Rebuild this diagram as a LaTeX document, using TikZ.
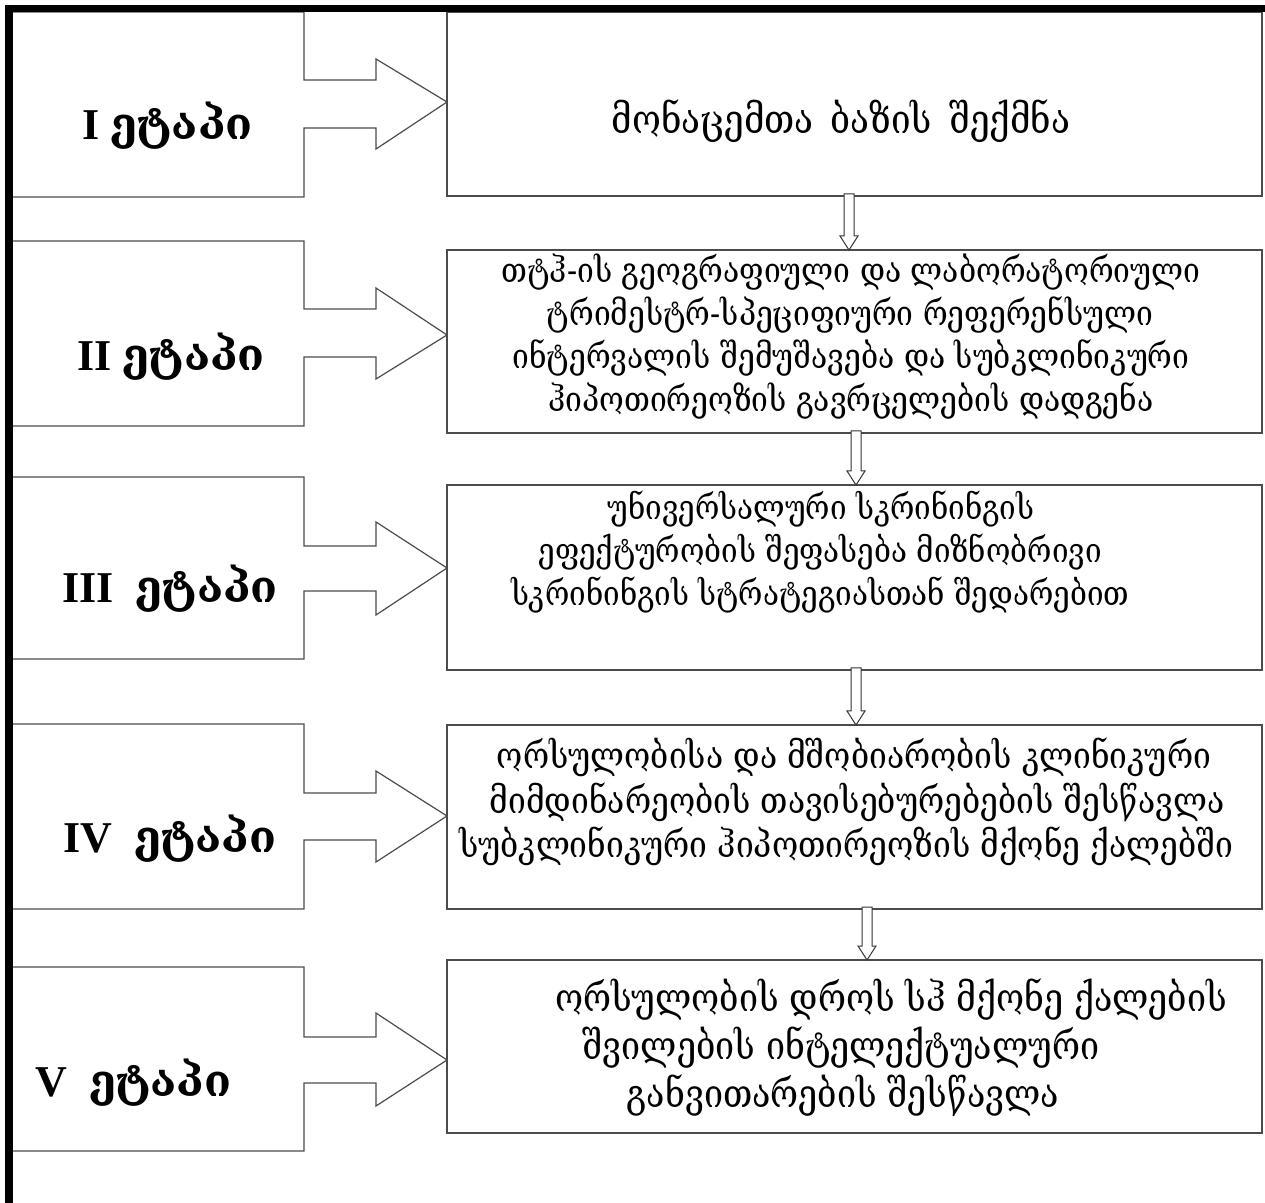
\documentclass[tikz,border=0pt]{standalone}
\usepackage{fontspec}
\setmainfont{Liberation Serif}
\newfontfamily\geo{DejaVu Serif}
\usetikzlibrary{calc,fit}
\newcommand\stagebox[8]{%
  \draw[callout] (13,#1) -- (304,#1) -- (304,#3) -- (376,#3) -- (376,#5)
     -- (447,#7) -- (376,#6) -- (376,#4) -- (304,#4) -- (304,#2) -- (13,#2);
  \coordinate (#8) at (447,#7);}
\newcommand\blockdown[3]{%
  \draw[darr] let \p1=(#2.south -| #1), \p2=(#3.north -| #1) in
    (\x1-2.5pt,\y1+1pt) -- (\x1-2.5pt,\y2+7pt) -- (\x1-4.5pt,\y2+7pt) -- (\x1,\y2)
    -- (\x1+4.5pt,\y2+7pt) -- (\x1+2.5pt,\y2+7pt) -- (\x1+2.5pt,\y1+1pt) -- cycle;}
\newcommand\tall[1]{\scalebox{1}[1.15]{#1}}
\begin{document}
\begin{tikzpicture}[x=0.5pt,y=-0.5pt,
  frameline/.style={line width=3.9pt, black, line join=miter},
  callout/.style={draw=black!70, line width=0.6pt},
  rbox/.style={draw=black!70, line width=0.6pt, inner sep=0pt, outer sep=0pt},
  darr/.style={draw=black!80, line width=0.5pt, fill=white},
  btxt/.style={anchor=base, inner sep=0pt, font=\geo\fontsize{15}{18}\selectfont},
  fs/.style={font=\geo\fontsize{#1}{18}\selectfont},
  ltxt/.style={anchor=base west, inner sep=0pt, font=\fontsize{22}{26}\selectfont\bfseries},
]
\useasboundingbox (0,0) rectangle (1265,1203);
\fill[white] (0,0) rectangle (1265,1203);

% left stage callouts
\stagebox{12}{197}{80}{128}{59}{149}{102}{tip1}
\stagebox{241}{426}{309}{357}{288}{379}{335}{tip2}
\stagebox{477}{659}{546}{591}{522}{615}{568}{tip3}
\stagebox{724}{909}{793}{840}{771}{862}{816}{tip4}
\stagebox{967}{1151}{1037}{1083}{1013}{1106}{1060}{tip5}

\node[ltxt] (l1) at (82,140) {I {\geo ეტაპი}};
\node[ltxt] (l2) at (77,371) {II {\geo ეტაპი}};
\node[ltxt] (l3) at (62,603) {III\ \ {\geo ეტაპი}};
\node[ltxt] (l4) at (63,852) {IV\ \ {\geo ეტაპი}};
\node[ltxt] (l5) at (35,1096) {V\ \ {\geo ეტაპი}};

% right boxes
\node[rbox, fit={(447,12) (1262,196)}] (b1) {};
\node[rbox, fit={(447,250) (1262,433)}] (b2) {};
\node[rbox, fit={(447,485) (1262,670)}] (b3) {};
\node[rbox, fit={(447,725) (1262,909)}] (b4) {};
\node[rbox, fit={(447,960) (1262,1133)}] (b5) {};

% texts
\node[btxt, fs=17.5] (t1) at (841,134) {\tall{მონაცემთა\hspace{3pt} ბაზის\hspace{3pt} შექმნა}};

\node[btxt] (t2a) at (851,283) {\tall{თტჰ-ის გეოგრაფიული და ლაბორატორიული}};
\node[btxt] (t2b) at (850,326) {\tall{ტრიმესტრ-სპეციფიური რეფერენსული}};
\node[btxt] (t2c) at (851,369) {\tall{ინტერვალის შემუშავება და სუბკლინიკური}};
\node[btxt] (t2d) at (851,412) {\tall{ჰიპოთირეოზის გავრცელების დადგენა}};

\node[btxt, fs=14.8] (t3a) at (821,520) {\tall{უნივერსალური სკრინინგის}};
\node[btxt, fs=14.8] (t3b) at (820,563) {\tall{ეფექტურობის შეფასება მიზნობრივი}};
\node[btxt, fs=14.8] (t3c) at (820,606) {\tall{სკრინინგის სტრატეგიასთან შედარებით}};

\node[btxt, fs=15.9] (t4a) at (854,769) {\tall{ორსულობისა და მშობიარობის კლინიკური}};
\node[btxt, fs=15.9] (t4b) at (857,813) {\tall{მიმდინარეობის თავისებურებების შესწავლა}};
\node[btxt, fs=15.9] (t4c) at (846,857) {\tall{სუბკლინიკური ჰიპოთირეოზის მქონე ქალებში}};

\node[btxt, fs=17] (t5a) at (891,1011) {\tall{ორსულობის დროს სჰ მქონე ქალების}};
\node[btxt, fs=17] (t5b) at (841,1059) {\tall{შვილების ინტელექტუალური}};
\node[btxt, fs=17] (t5c) at (843,1107) {\tall{განვითარების შესწავლა}};

% down block arrows
\coordinate (x1) at (849,0);
\coordinate (x2) at (856,0);
\coordinate (x3) at (856,0);
\coordinate (x4) at (867,0);
\blockdown{x1}{b1}{b2}
\blockdown{x2}{b2}{b3}
\blockdown{x3}{b3}{b4}
\blockdown{x4}{b4}{b5}

% outer frame
\draw[frameline] (9,1203) -- (9,8.5) -- (1265,8.5);
\end{tikzpicture}
\end{document}
